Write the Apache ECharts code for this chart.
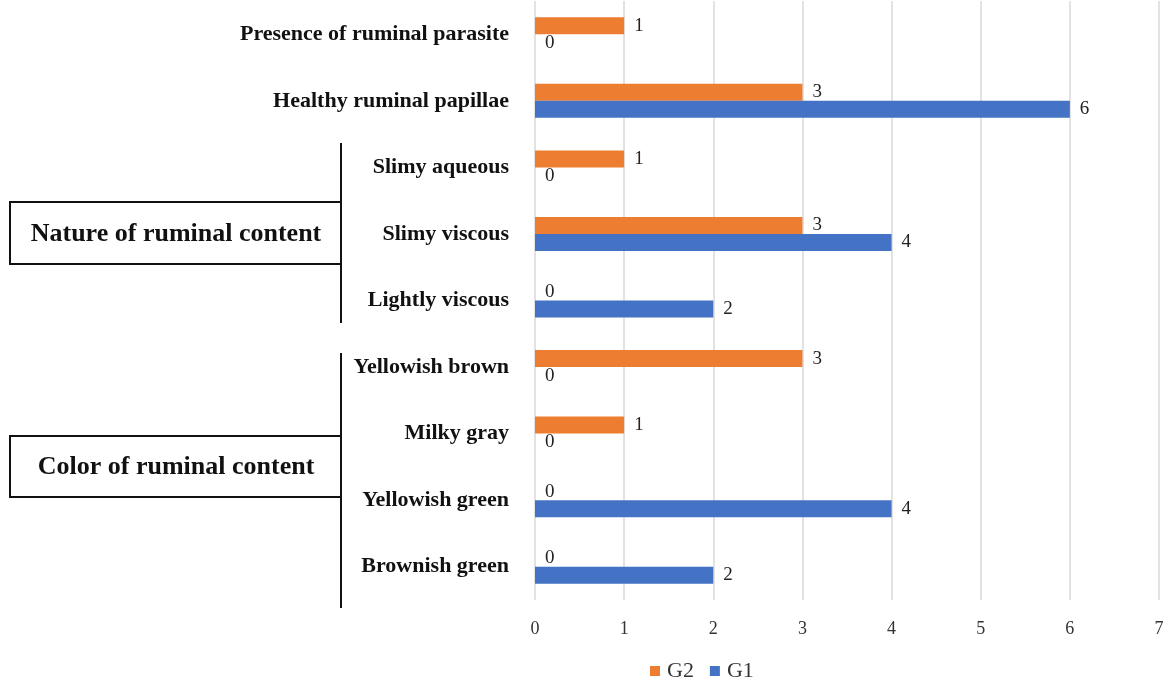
<!DOCTYPE html>
<html>
<head>
<meta charset="utf-8">
<script src="https://cdn.jsdelivr.net/npm/echarts@6/dist/echarts.min.js"></script>
<style>
  html, body { margin: 0; padding: 0; background: #fff; }
  #chart { width: 1171px; height: 680px; }
</style>
</head>
<body>
<div id="chart"></div>
<script>
// categories, bottom to top
const categories = [
  'Brownish green', 'Yellowish green', 'Milky gray', 'Yellowish brown',
  'Lightly viscous', 'Slimy viscous', 'Slimy aqueous',
  'Healthy ruminal papillae', 'Presence of ruminal parasite'
];
const g1Values = [2, 4, 0, 0, 2, 4, 0, 6, 0];
const g2Values = [0, 0, 1, 3, 0, 3, 1, 3, 1];
const xTicks = [0, 1, 2, 3, 4, 5, 6, 7];

const serif = '"Liberation Serif", "DejaVu Serif", serif';

const chart = echarts.init(document.getElementById('chart'));

const valueLabel = {
  show: true,
  position: 'right',
  distance: 10,
  fontFamily: serif,
  fontSize: 19,
  color: '#222'
};

// group boxes and brackets on the left
function groupBox(text, boxTop, boxBottom, lineTop, lineBottom) {
  return [
    {
      type: 'line',
      shape: { x1: 341, y1: lineTop, x2: 341, y2: lineBottom },
      style: { stroke: '#111', lineWidth: 2 }
    },
    {
      type: 'rect',
      shape: { x: 10, y: boxTop, width: 331, height: boxBottom - boxTop },
      style: { fill: '#fff', stroke: '#111', lineWidth: 2 }
    },
    {
      type: 'text',
      x: 176,
      y: (boxTop + boxBottom) / 2 + 1,
      style: {
        text: text,
        fontFamily: serif,
        fontWeight: 'bold',
        fontSize: 26,
        fill: '#111',
        align: 'center',
        verticalAlign: 'middle'
      }
    }
  ];
}

const option = {
  animation: false,
  backgroundColor: '#fff',
  grid: { left: 535, right: 12, top: 1, bottom: 80, containLabel: false },
  legend: {
    data: ['G2', 'G1'],
    top: 655,
    left: 645,
    itemWidth: 10,
    itemHeight: 10,
    itemGap: 16,
    icon: 'rect',
    textStyle: { fontFamily: serif, fontSize: 22, color: '#333', padding: [0, 0, 0, 2] }
  },
  xAxis: {
    type: 'value',
    min: 0,
    max: 7,
    interval: 1,
    axisLine: { show: false },
    axisTick: { show: false },
    axisLabel: {
      fontFamily: serif,
      fontSize: 18,
      color: '#333',
      margin: 20,
      formatter: v => (xTicks.includes(v) ? String(v) : '')
    },
    splitLine: { lineStyle: { color: '#d9d9d9', width: 1.5 } }
  },
  yAxis: {
    type: 'category',
    data: categories,
    axisLine: { show: false },
    axisTick: { show: false },
    axisLabel: {
      fontFamily: serif,
      fontWeight: 'bold',
      fontSize: 22,
      color: '#111',
      margin: 26
    }
  },
  series: [
    {
      name: 'G2',
      type: 'bar',
      data: g2Values,
      barWidth: 17,
      barGap: '0%',
      itemStyle: { color: '#ED7D31' },
      label: valueLabel
    },
    {
      name: 'G1',
      type: 'bar',
      data: g1Values,
      barWidth: 17,
      barGap: '0%',
      itemStyle: { color: '#4472C4' },
      label: valueLabel
    }
  ],
  graphic: [
    ...groupBox('Nature of ruminal content', 202, 264, 143, 323),
    ...groupBox('Color of ruminal content', 436, 497, 353, 608)
  ]
};

chart.setOption(option);
</script>
</body>
</html>
